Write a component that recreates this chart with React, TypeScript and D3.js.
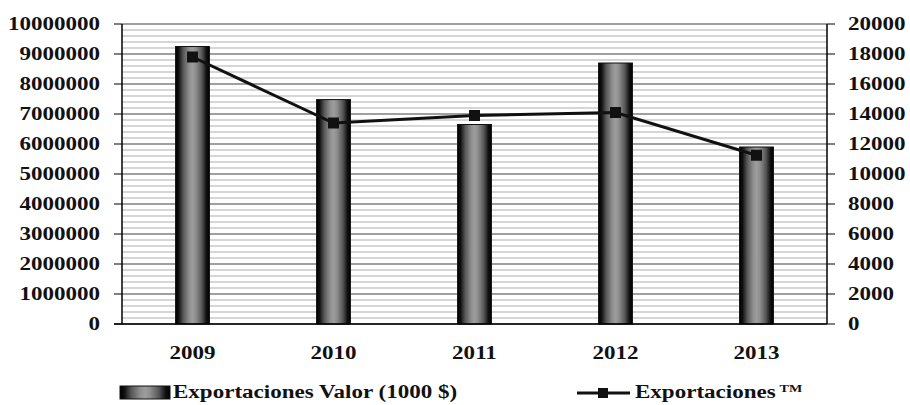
import React from 'react';
import * as d3 from 'd3';

const years = ['2009', '2010', '2011', '2012', '2013'];
const valorExport = [9250000, 7480000, 6650000, 8700000, 5900000];
const tmExport = [17800, 13400, 13900, 14100, 11250];
const leftTicks = [0, 1000000, 2000000, 3000000, 4000000, 5000000, 6000000, 7000000, 8000000, 9000000, 10000000];
const rightTicks = [0, 2000, 4000, 6000, 8000, 10000, 12000, 14000, 16000, 18000, 20000];

const W = 910;
const H = 405;
const margin = { top: 24, right: 83, bottom: 81, left: 122 };
const SX = 1.28;
const font = '"Liberation Serif", "Times New Roman", serif';

const App = () => {
  const x = d3
    .scaleBand()
    .domain(years)
    .range([margin.left, W - margin.right]);
  const yL = d3.scaleLinear().domain([0, 10000000]).range([H - margin.bottom, margin.top]);
  const yR = d3.scaleLinear().domain([0, 20000]).range([H - margin.bottom, margin.top]);
  const minor = d3.range(0, 10000001, 200000);
  const barW = x.bandwidth() * 0.24;
  const cx = (d: string) => (x(d) ?? 0) + x.bandwidth() / 2;

  const line = d3
    .line<number>()
    .x((_, i) => cx(years[i]))
    .y((d) => yR(d));

  const x0 = margin.left;
  const x1 = W - margin.right;
  const yb = H - margin.bottom;

  const label = (tx: number, ty: number, txt: string, anchor: string, key?: string) => (
    <g key={key} transform={`translate(${tx},${ty}) scale(${SX},1)`}>
      <text textAnchor={anchor} dy="0.35em" fontSize={18} fontWeight="bold" fontFamily={font} fill="#111">
        {txt}
      </text>
    </g>
  );

  return (
    <svg width={W} height={H} style={{ position: 'absolute', left: 0, top: 0 }}>
      <defs>
        <linearGradient id="barGrad" x1="0" x2="1" y1="0" y2="0">
          <stop offset="0%" stopColor="#000" />
          <stop offset="9%" stopColor="#111" />
          <stop offset="22%" stopColor="#555" />
          <stop offset="40%" stopColor="#8e8e8e" />
          <stop offset="50%" stopColor="#9d9d9d" />
          <stop offset="60%" stopColor="#8e8e8e" />
          <stop offset="78%" stopColor="#555" />
          <stop offset="91%" stopColor="#111" />
          <stop offset="100%" stopColor="#000" />
        </linearGradient>
      </defs>
      <rect width={W} height={H} fill="#fff" />
      {/* minor grid */}
      {minor.map((v) => (
        <line key={'m' + v} x1={x0} x2={x1} y1={yL(v)} y2={yL(v)} stroke="#c8c8c8" strokeWidth={1.6} />
      ))}
      {leftTicks.map((v) => (
        <line key={'g' + v} x1={x0} x2={x1} y1={yL(v)} y2={yL(v)} stroke="#6a6a6a" strokeWidth={1} />
      ))}
      {/* bars */}
      {years.map((d, i) => (
        <rect
          key={d}
          x={cx(d) - barW / 2}
          y={yL(valorExport[i])}
          width={barW}
          height={yb - yL(valorExport[i])}
          fill="url(#barGrad)"
          stroke="#111"
          strokeWidth={1}
        />
      ))}
      {/* axes */}
      <line x1={x0 - 8} x2={x1} y1={yb} y2={yb} stroke="#000" strokeWidth={1.5} />
      <line x1={x0} x2={x0} y1={margin.top} y2={yb} stroke="#000" strokeWidth={1.5} />
      <line x1={x1} x2={x1} y1={margin.top} y2={yb} stroke="#000" strokeWidth={1.5} />
      {leftTicks.map((v) => (
        <line key={'lt' + v} x1={x0 - 8} x2={x0} y1={yL(v)} y2={yL(v)} stroke="#000" strokeWidth={1} />
      ))}
      {rightTicks.map((v) => (
        <line key={'rt' + v} x1={x1} x2={x1 + 8} y1={yR(v)} y2={yR(v)} stroke="#000" strokeWidth={1} />
      ))}
      {leftTicks.map((v) => label(100, yL(v), String(v), 'end', 'll' + v))}
      {rightTicks.map((v) => label(848, yR(v), String(v), 'start', 'rl' + v))}
      {years.map((d) => label(cx(d), 353, d, 'middle', 'xl' + d))}
      {/* line series */}
      <path d={line(tmExport) ?? ''} fill="none" stroke="#111" strokeWidth={3} />
      {tmExport.map((v, i) => (
        <rect key={'mk' + i} x={cx(years[i]) - 5.5} y={yR(v) - 5.5} width={11} height={11} fill="#111" />
      ))}
      {/* legend */}
      <rect x={120} y={386} width={50} height={13} fill="url(#barGrad)" stroke="#111" strokeWidth={1} />
      {label(173, 392, 'Exportaciones Valor (1000 $)', 'start')}
      <line x1={577} x2={630} y1={393} y2={393} stroke="#111" strokeWidth={3} />
      <rect x={598} y={388} width={10} height={10} fill="#111" />
      <g transform={`translate(635,392) scale(${SX},1)`}>
        <text dy="0.35em" fontSize={18} fontWeight="bold" fontFamily={font} fill="#111">
          Exportaciones
          <tspan dx={3} dy={-6} fontSize={11}>
            TM
          </tspan>
        </text>
      </g>
    </svg>
  );
};

export default App;
